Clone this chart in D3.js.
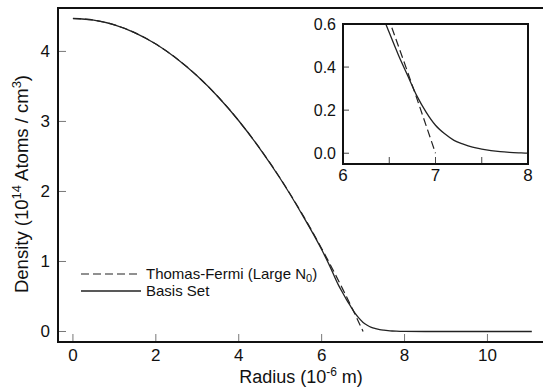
<!DOCTYPE html>
<html>
  <head>
    <title>Density profile</title>
    <meta charset="utf-8" />
    <style>
      body { margin: 0; background: #fff; }
      text { font-family: "Liberation Sans", Arial, sans-serif; fill: #111; }
    </style>
  </head>
  <body>
    <div id="plot"></div>

    <script src="https://d3js.org/d3.v7.min.js"></script>
    <script>
      // radius in 10^-6 m, density in 10^14 atoms / cm^3
      const tfRadius = [0, 0.5, 1, 1.5, 2, 2.5, 3, 3.5, 4, 4.5, 5, 5.5, 6, 6.25, 6.5, 6.75, 7];
      const tfDensity = [4.47, 4.447, 4.379, 4.265, 4.105, 3.9, 3.649, 3.353, 3.01, 2.623, 2.189, 1.71, 1.186, 0.907, 0.616, 0.314, 0];

      const basisRadius = [0, 0.5, 1, 1.5, 2, 2.5, 3, 3.5, 4, 4.5, 5, 5.5, 6, 6.2, 6.4, 6.5, 6.6, 6.7,
        6.8, 6.9, 7, 7.1, 7.2, 7.3, 7.4, 7.5, 7.6, 7.7, 7.8, 7.9, 8, 8.5, 9, 10, 11.07];
      const basisDensity = [4.47, 4.447, 4.379, 4.265, 4.105, 3.9, 3.649, 3.353, 3.01, 2.62, 2.185, 1.70, 1.17, 0.93, 0.67, 0.56, 0.455, 0.36,
        0.265, 0.19, 0.13, 0.09, 0.06, 0.042, 0.028, 0.019, 0.012, 0.007, 0.004, 0.002, 0.0005, 0, 0, 0, 0];

      const xTicks = [0, 2, 4, 6, 8, 10];
      const yTicks = [0, 1, 2, 3, 4];
      const insetXTicks = [6, 6.5, 7, 7.5, 8];
      const insetXLabels = [6, 7, 8];
      const insetYTicks = [0, 0.2, 0.4, 0.6];

      const legendItems = ["Thomas-Fermi (Large N", "Basis Set"];

      const width = 543, height = 387;
      const svg = d3.select("#plot").append("svg")
        .attr("width", width)
        .attr("height", height);

      const x = d3.scaleLinear().domain([-0.36, 11.34]).range([58, 543]);
      const y = d3.scaleLinear().domain([-0.15, 4.62]).range([342, 8]);

      // main frame (right edge runs past the window)
      svg.append("rect")
        .attr("x", 58).attr("y", 8)
        .attr("width", 495).attr("height", 334)
        .attr("fill", "none")
        .attr("stroke", "#111")
        .attr("stroke-width", 2);

      svg.append("g")
        .selectAll("line")
        .data(xTicks)
        .join("line")
        .attr("x1", d => x(d)).attr("x2", d => x(d))
        .attr("y1", 341).attr("y2", 334)
        .attr("stroke", "#777").attr("stroke-width", 1);

      svg.append("g")
        .selectAll("text")
        .data(xTicks)
        .join("text")
        .attr("x", d => x(d)).attr("y", 361)
        .attr("text-anchor", "middle")
        .attr("font-size", 17)
        .text(d => d);

      svg.append("g")
        .selectAll("line")
        .data(yTicks)
        .join("line")
        .attr("x1", 59).attr("x2", 66)
        .attr("y1", d => y(d)).attr("y2", d => y(d))
        .attr("stroke", "#777").attr("stroke-width", 1);

      svg.append("g")
        .selectAll("text")
        .data(yTicks)
        .join("text")
        .attr("x", 50).attr("y", d => y(d) + 6)
        .attr("text-anchor", "end")
        .attr("font-size", 17)
        .text(d => d);

      // axis titles
      const xl = svg.append("text")
        .attr("x", 301).attr("y", 383)
        .attr("text-anchor", "middle")
        .attr("font-size", 18);
      xl.append("tspan").text("Radius (10");
      xl.append("tspan").attr("dy", -7).attr("font-size", 12).text("-6");
      xl.append("tspan").attr("dy", 7).text(" m)");

      const yl = svg.append("text")
        .attr("transform", "translate(28,184) rotate(-90)")
        .attr("text-anchor", "middle")
        .attr("font-size", 18.5);
      yl.append("tspan").text("Density (10");
      yl.append("tspan").attr("dy", -7).attr("font-size", 13).text("14");
      yl.append("tspan").attr("dy", 7).text(" Atoms / cm");
      yl.append("tspan").attr("dy", -7).attr("font-size", 13).text("3");
      yl.append("tspan").attr("dy", 7).text(")");

      const line = d3.line()
        .x(d => x(d[0]))
        .y(d => y(d[1]))
        .curve(d3.curveMonotoneX);

      svg.append("path")
        .datum(d3.zip(tfRadius, tfDensity))
        .attr("d", line)
        .attr("fill", "none")
        .attr("stroke", "#222")
        .attr("stroke-width", 1.2)
        .attr("stroke-dasharray", "8,4");

      svg.append("path")
        .datum(d3.zip(basisRadius, basisDensity))
        .attr("d", line)
        .attr("fill", "none")
        .attr("stroke", "#222")
        .attr("stroke-width", 1.3);

      // legend
      const legend = svg.append("g");
      legend.append("line")
        .attr("x1", 81).attr("x2", 141).attr("y1", 274).attr("y2", 274)
        .attr("stroke", "#222").attr("stroke-width", 1.2)
        .attr("stroke-dasharray", "8,4");
      legend.append("line")
        .attr("x1", 81).attr("x2", 141).attr("y1", 291).attr("y2", 291)
        .attr("stroke", "#222").attr("stroke-width", 1.3);
      const l1 = legend.append("text")
        .attr("x", 146).attr("y", 279).attr("font-size", 15);
      l1.append("tspan").text(legendItems[0]);
      l1.append("tspan").attr("dy", 3).attr("font-size", 11).text("0");
      l1.append("tspan").attr("dy", -3).text(")");
      legend.append("text")
        .attr("x", 146).attr("y", 296).attr("font-size", 15)
        .text(legendItems[1]);

      // inset
      const ix = d3.scaleLinear().domain([6, 8]).range([343, 528]);
      const iy = d3.scaleLinear().domain([-0.05, 0.6]).range([164, 24]);

      svg.append("defs").append("clipPath").attr("id", "inset-clip")
        .append("rect")
        .attr("x", 343).attr("y", 24)
        .attr("width", 185).attr("height", 140);

      svg.append("rect")
        .attr("x", 343).attr("y", 24)
        .attr("width", 185).attr("height", 140)
        .attr("fill", "#fff");

      const iline = d3.line()
        .x(d => ix(d[0]))
        .y(d => iy(d[1]))
        .curve(d3.curveMonotoneX);

      const inset = svg.append("g").attr("clip-path", "url(#inset-clip)");
      inset.append("path")
        .datum(d3.zip(tfRadius, tfDensity))
        .attr("d", iline)
        .attr("fill", "none")
        .attr("stroke", "#222")
        .attr("stroke-width", 1.2)
        .attr("stroke-dasharray", "8,4");
      inset.append("path")
        .datum(d3.zip(basisRadius, basisDensity))
        .attr("d", iline)
        .attr("fill", "none")
        .attr("stroke", "#222")
        .attr("stroke-width", 1.3);

      svg.append("g")
        .selectAll("line")
        .data(insetXTicks)
        .join("line")
        .attr("x1", d => ix(d)).attr("x2", d => ix(d))
        .attr("y1", 164).attr("y2", 157)
        .attr("stroke", "#444").attr("stroke-width", 1);

      svg.append("g")
        .selectAll("line")
        .data(insetYTicks)
        .join("line")
        .attr("x1", 343).attr("x2", 349)
        .attr("y1", d => iy(d)).attr("y2", d => iy(d))
        .attr("stroke", "#444").attr("stroke-width", 1);

      svg.append("rect")
        .attr("x", 343).attr("y", 24)
        .attr("width", 185).attr("height", 140)
        .attr("fill", "none")
        .attr("stroke", "#111")
        .attr("stroke-width", 2);

      svg.append("g")
        .selectAll("text")
        .data(insetXLabels)
        .join("text")
        .attr("x", d => ix(d)).attr("y", 181)
        .attr("text-anchor", "middle")
        .attr("font-size", 17)
        .text(d => d);

      svg.append("g")
        .selectAll("text")
        .data(insetYTicks)
        .join("text")
        .attr("x", 336).attr("y", d => iy(d) + 6)
        .attr("text-anchor", "end")
        .attr("font-size", 16)
        .text(d => d.toFixed(1));
    </script>
  </body>
</html>
